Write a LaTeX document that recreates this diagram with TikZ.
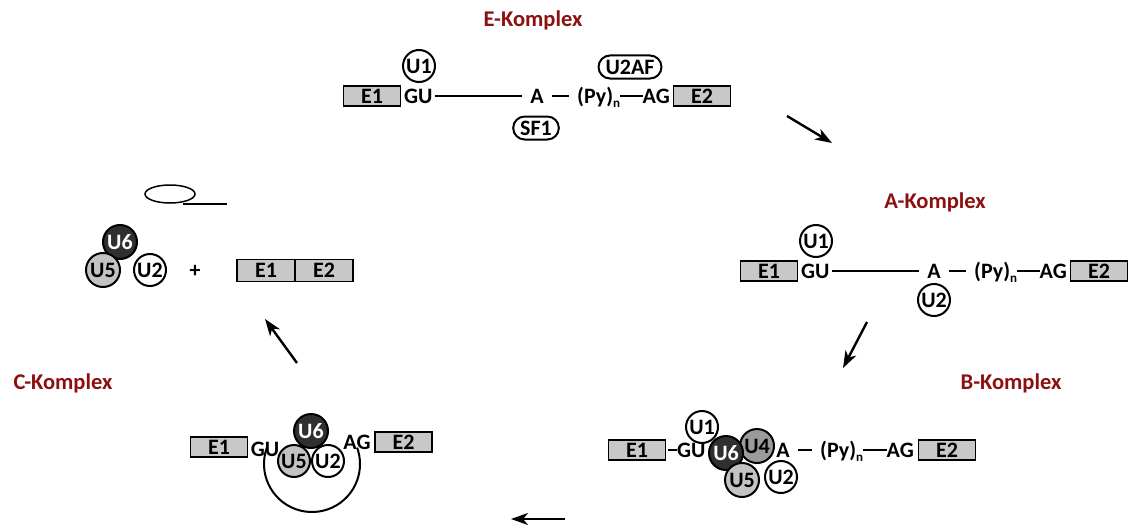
\documentclass[tikz,border=0pt]{standalone}
\usepackage{fontspec}
\setmainfont{Carlito}[BoldFont={Carlito Bold}]
\usetikzlibrary{arrows.meta}
\definecolor{komplexred}{RGB}{140,16,16}
\definecolor{exongray}{RGB}{200,200,200}
\definecolor{snlight}{RGB}{195,195,195}
\definecolor{snmid}{RGB}{155,155,155}
\definecolor{sndark}{RGB}{48,48,48}
\newcommand\subn{\raisebox{-4pt}{\fontsize{13}{13}\selectfont n}}
\begin{document}
\begin{tikzpicture}[x=1pt,y=-1pt,
  every node/.style={font=\bfseries\fontsize{22}{24}\selectfont},
  title/.style={text=komplexred, font=\bfseries\fontsize{22.5}{26}\selectfont},
  exon/.style={draw, fill=exongray, line width=1.5pt, minimum width=57pt, minimum height=20pt, inner sep=0pt},
  seq/.style={inner sep=0pt, text height=14pt, text depth=0pt},
  snrna/.style={circle, draw, line width=2pt, fill=white, minimum size=32pt, inner sep=0pt},
  bigsn/.style={snrna, minimum size=34pt},
  lightsn/.style={bigsn, fill=snlight},
  midsn/.style={bigsn, fill=snmid},
  darksn/.style={bigsn, fill=sndark, text=white},
  factor/.style={draw, line width=2pt, rounded corners=11.5pt, minimum height=23pt, inner xsep=7pt, inner ysep=0pt},
  bb/.style={line width=2pt},
  stepper/.style={line width=2.4pt, -{Stealth[length=17pt,width=12pt,inset=5pt]}},
]
\useasboundingbox (0,0) rectangle (1129,527);

% ---------- E complex ----------
\node[title] (tE) at (533,20) {E-Komplex};
\node[exon] (e1E) at (372,96) {E1};
\node[seq, anchor=west] (guE) at (404,96) {GU};
\node[seq] (aE) at (537,96) {A};
\node[seq, anchor=west] (pyE) at (577,96) {(Py)\subn};
\node[seq, anchor=east] (agE) at (670,96) {AG};
\node[exon] (e2E) at (702,96) {E2};
\draw[bb, shorten <=2pt, shorten >=8pt] (guE) -- (aE);
\draw[bb, shorten <=8pt, shorten >=8pt] (aE) -- (pyE);
\draw[bb] (pyE) -- (agE);
\node[snrna] (u1E) at (419,66) {U1};
\node[factor] (u2af) at (630,67) {U2AF};
\node[factor] (sf1) at (536,128) {SF1};

\coordinate (s1a) at (787,116);
\coordinate (s1b) at (832,143);
\draw[stepper] (s1a) -- (s1b);

% ---------- A complex ----------
\node[title] (tA) at (935,202) {A-Komplex};
\node[exon] (e1A) at (769,271) {E1};
\node[seq, anchor=west] (guA) at (801,271) {GU};
\node[seq] (aA) at (934,271) {A};
\node[seq, anchor=west] (pyA) at (974,271) {(Py)\subn};
\node[seq, anchor=east] (agA) at (1067,271) {AG};
\node[exon] (e2A) at (1099,271) {E2};
\draw[bb, shorten <=2pt, shorten >=8pt] (guA) -- (aA);
\draw[bb, shorten <=8pt, shorten >=8pt] (aA) -- (pyA);
\draw[bb] (pyA) -- (agA);
\node[snrna] (u1A) at (816,241) {U1};
\node[snrna] (u2A) at (934,300) {U2};

\coordinate (s2a) at (867,322);
\coordinate (s2b) at (843,368);
\draw[stepper] (s2a) -- (s2b);

% ---------- B complex ----------
\node[title] (tB) at (1011,383) {B-Komplex};
\node[exon] (e1B) at (637,450) {E1};
\node[seq, anchor=west] (guB) at (677,450) {GU};
\draw[bb, shorten <=2pt] (e1B) -- (guB);
\node[seq] (aB) at (783,450) {A};
\node[seq, anchor=west] (pyB) at (820,450) {(Py)\subn};
\node[seq, anchor=east] (agB) at (914,450) {AG};
\node[exon] (e2B) at (947,450) {E2};
\draw[bb, shorten <=8pt, shorten >=8pt] (aB) -- (pyB);
\draw[bb] (pyB) -- (agB);
\node[bigsn, minimum size=32pt] (u1B) at (702,427) {U1};
\node[midsn] (u4B) at (757,446) {U4};
\node[darksn] (u6B) at (726,453) {U6};
\node[lightsn] (u5B) at (742,480) {U5};
\node[snrna] (u2B) at (781,477) {U2};

\coordinate (s3a) at (565,519);
\coordinate (s3b) at (511,519);
\draw[stepper] (s3a) -- (s3b);

% ---------- C complex ----------
\node[title] (tC) at (63,383) {C-Komplex};
\node[exon] (e1C) at (219,447) {E1};
\node[seq] (guC) at (265,449) {GU};
\node[seq] (agC) at (357,442) {AG};
\node[exon] (e2C) at (403.5,442) {E2};
\coordinate (lariat) at (312,464);
\draw[bb] ([shift={(-160:48)}]lariat) arc[start angle=-160, end angle=-380, radius=48];
\node[darksn] (u6C) at (311,431) {U6};
\node[lightsn, minimum size=32pt] (u5C) at (294,461) {U5};
\node[snrna] (u2C) at (328,461) {U2};

\coordinate (s4a) at (297,363);
\coordinate (s4b) at (265,319);
\draw[stepper] (s4a) -- (s4b);

% ---------- released products ----------
\draw[line width=1.5pt] (170,194) ellipse[x radius=25, y radius=9];
\coordinate (tailA) at (183,204);
\coordinate (tailB) at (227,204);
\draw[line width=1.5pt] (tailA) -- (tailB);
\node[darksn] (u6L) at (120,242) {U6};
\node[lightsn] (u5L) at (103,270) {U5};
\node[snrna] (u2L) at (150,270) {U2};
\node (plus) at (195,271) {+};
\node[exon, minimum width=58pt, minimum height=22pt] (e1L) at (266,270.5) {E1};
\node[exon, minimum width=58pt, minimum height=22pt] (e2L) at (324,270.5) {E2};
\end{tikzpicture}
\end{document}
